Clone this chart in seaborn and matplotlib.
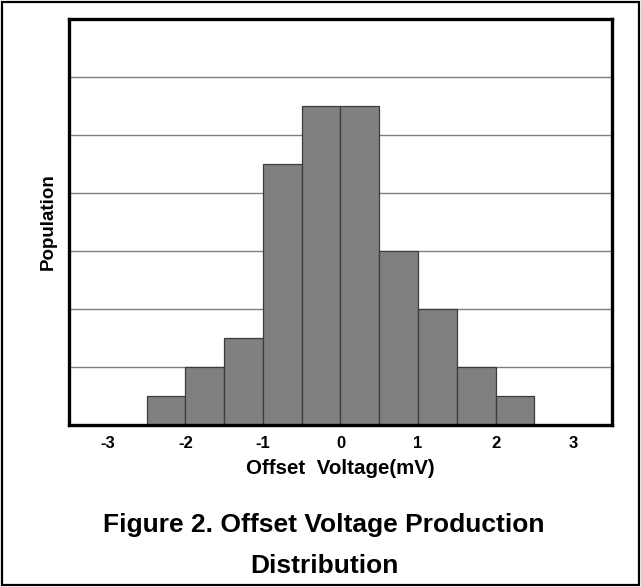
import matplotlib
matplotlib.use("Agg")
import matplotlib.pyplot as plt
import seaborn as sns
import numpy as np
import pandas as pd
from matplotlib.patches import Rectangle

# Data
bin_edges = [-2.5, -2.0, -1.5, -1.0, -0.5, 0.0, 0.5, 1.0, 1.5, 2.0, 2.5]
bin_centers = [-2.25, -1.75, -1.25, -0.75, -0.25, 0.25, 0.75, 1.25, 1.75, 2.25]
population = [0.5, 1.0, 1.5, 4.5, 5.5, 5.5, 3.0, 2.0, 1.0, 0.5]
xtick_values = [-3, -2, -1, 0, 1, 2, 3]
xtick_labels = ["-3", "-2", "-1", "0", "1", "2", "3"]
grid_levels = [1, 2, 3, 4, 5, 6]

sns.set_style("white")
plt.rcParams['font.family'] = ['Liberation Sans', 'DejaVu Sans']
plt.rcParams['text.color'] = 'black'
plt.rcParams['axes.labelcolor'] = 'black'
plt.rcParams['xtick.color'] = 'black'

fig = plt.figure(figsize=(6.41, 5.87), dpi=100)
ax = fig.add_axes([69/641, 1-425/587, (612-69)/641, (425-19)/587])

df = pd.DataFrame({"voltage": bin_centers, "count": population})
sns.histplot(data=df, x="voltage", weights="count", bins=bin_edges, ax=ax,
             color="#808080", alpha=1.0, edgecolor="#3c3c3c", linewidth=0.9, zorder=3)

ax.set_xlim(-3.5, 3.5)
ax.set_ylim(0, 7)
for g in grid_levels:
    ax.axhline(g, color="#808080", linewidth=1.0, zorder=1)
ax.set_yticks([])
ax.set_xticks(xtick_values)
ax.set_xticklabels(xtick_labels, fontsize=12, fontweight="bold", color="black")
ax.tick_params(axis="x", length=0, pad=8)
for s in ax.spines.values():
    s.set_visible(True)
    s.set_linewidth(2.4)
    s.set_color("black")
    s.set_zorder(5)

ax.set_xlabel("Offset  Voltage(mV)", fontsize=14.8, fontweight="bold", labelpad=6, color="black")
ax.set_ylabel("Population", fontsize=13.5, fontweight="bold", labelpad=9, color="black")

fig.text(324/641, 1-532/587, "Figure 2. Offset Voltage Production", ha="center", va="baseline",
         fontsize=19, fontweight="bold", color="black")
fig.text(324/641, 1-573/587, "Distribution", ha="center", va="baseline",
         fontsize=19, fontweight="bold", color="black")

fig.patches.append(Rectangle((0.003, 0.003), 0.994, 0.994, transform=fig.transFigure,
                             fill=False, edgecolor="black", linewidth=1.6))

fig.savefig("out.png", dpi=100)
